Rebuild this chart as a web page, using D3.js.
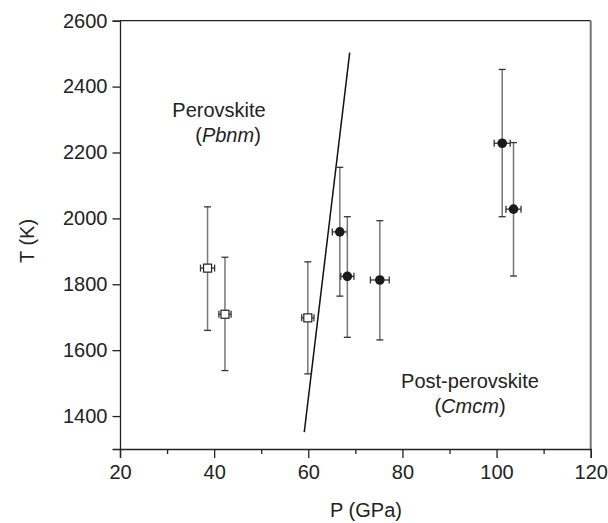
<!DOCTYPE html>
<html><head><meta charset="utf-8">
<script src="https://cdn.jsdelivr.net/npm/d3@7"></script>
<style>
body{margin:0;background:#fff;}
text{font-family:"Liberation Sans",Arial,Helvetica,sans-serif;fill:#222;}
</style></head>
<body><svg id="c" width="608" height="523"></svg>
<script>
// Perovskite (open squares)
const pvP    = [38.6, 42.3, 59.9];
const pvT    = [1849, 1709, 1698];
const pvTlo  = [1660, 1538, 1528];
const pvThi  = [2035, 1882, 1868];
const pvPerr = [1.5, 1.3, 1.3];
// Post-perovskite (filled circles)
const ppvP    = [66.7, 68.3, 75.2, 101.2, 103.6];
const ppvT    = [1959, 1824, 1813, 2228, 2028];
const ppvTlo  = [1764, 1639, 1631, 2005, 1825];
const ppvThi  = [2155, 2005, 1993, 2452, 2230];
const ppvPerr = [1.6, 1.4, 2.0, 1.7, 1.6];
// Phase boundary
const boundaryP = [59.15, 68.8];
const boundaryT = [1351, 2503];
const xTicks = [20, 40, 60, 80, 100, 120];
const xMinor = [30, 50, 70, 90, 110];
const yTicks = [1400, 1600, 1800, 2000, 2200, 2400, 2600];

const svg = d3.select("#c");
const x = d3.scaleLinear().domain([20,120]).range([120,590.7]);
const y = d3.scaleLinear().domain([1300,2600]).range([449,20.7]);

// frame
svg.append("line").attr("x1",120).attr("x2",590.7).attr("y1",20.7).attr("y2",20.7).attr("stroke","#222").attr("stroke-width",1.3);
svg.append("line").attr("x1",590.7).attr("x2",590.7).attr("y1",20.7).attr("y2",449).attr("stroke","#777").attr("stroke-width",2);

const xAxis = svg.append("g").attr("transform","translate(0,449)")
  .call(d3.axisBottom(x).tickValues(xTicks).tickSize(9).tickPadding(7).tickFormat(d3.format("d")));
const xMin = svg.append("g").attr("transform","translate(0,449)")
  .call(d3.axisBottom(x).tickValues(xMinor).tickSize(5).tickFormat(""));
xMin.select(".domain").remove();
const yAxis = svg.append("g").attr("transform","translate(120,0)")
  .call(d3.axisLeft(y).tickValues(yTicks).tickSize(7.5).tickPadding(5).tickFormat(d3.format("d")));
[xAxis,xMin,yAxis].forEach(g=>{
  g.selectAll("path,line").attr("stroke","#222").attr("stroke-width",1.3);
  g.selectAll("text").attr("font-size",20).attr("fill","#222").style("font-family","'Liberation Sans',Arial,sans-serif");
});

// axis titles
svg.append("text").attr("x",366).attr("y",517).attr("text-anchor","middle").attr("font-size",20).text("P (GPa)");
svg.append("text").attr("transform","translate(34,241) rotate(-90)").attr("text-anchor","middle").attr("font-size",20).text("T (K)");

// boundary line
svg.append("line").attr("x1",x(boundaryP[0])).attr("y1",y(boundaryT[0]))
  .attr("x2",x(boundaryP[1])).attr("y2",y(boundaryT[1])).attr("stroke","#111").attr("stroke-width",1.5);

function drawSet(P,T,Tlo,Thi,Perr,kind){
  const data = P.map((p,i)=>({p,t:T[i],lo:Tlo[i],hi:Thi[i],pe:Perr[i]}));
  const g = svg.append("g");
  data.forEach(d=>{
    const cx=x(d.p), cy=y(d.t);
    g.append("line").attr("x1",cx).attr("x2",cx).attr("y1",y(d.lo)).attr("y2",y(d.hi)).attr("stroke","#777").attr("stroke-width",1.5);
    [d.lo,d.hi].forEach(v=>g.append("line").attr("x1",cx-3.5).attr("x2",cx+3.5).attr("y1",y(v)).attr("y2",y(v)).attr("stroke","#333").attr("stroke-width",1.3));
    g.append("line").attr("x1",x(d.p-d.pe)).attr("x2",x(d.p+d.pe)).attr("y1",cy).attr("y2",cy).attr("stroke","#333").attr("stroke-width",1.3);
    [d.p-d.pe,d.p+d.pe].forEach(v=>g.append("line").attr("x1",x(v)).attr("x2",x(v)).attr("y1",cy-3.5).attr("y2",cy+3.5).attr("stroke","#333").attr("stroke-width",1.3));
    if(kind==="sq"){
      g.append("rect").attr("x",cx-4).attr("y",cy-4).attr("width",8).attr("height",8).attr("fill","#fff").attr("stroke","#222").attr("stroke-width",1.2);
    } else {
      g.append("circle").attr("cx",cx).attr("cy",cy).attr("r",4.8).attr("fill","#1a1a1a");
    }
  });
}
drawSet(pvP,pvT,pvTlo,pvThi,pvPerr,"sq");
drawSet(ppvP,ppvT,ppvTlo,ppvThi,ppvPerr,"ci");

// phase labels
const t1 = svg.append("text").attr("font-size",20).attr("text-anchor","middle");
t1.append("tspan").attr("x",219).attr("y",117).text("Perovskite");
const t1b = t1.append("tspan").attr("x",228).attr("y",142);
t1b.append("tspan").text("(");
t1b.append("tspan").attr("font-style","italic").text("Pbnm");
t1b.append("tspan").text(")");
const t2 = svg.append("text").attr("font-size",20).attr("text-anchor","middle");
t2.append("tspan").attr("x",470).attr("y",388).text("Post-perovskite");
const t2b = t2.append("tspan").attr("x",470).attr("y",413);
t2b.append("tspan").text("(");
t2b.append("tspan").attr("font-style","italic").text("Cmcm");
t2b.append("tspan").text(")");
</script></body></html>
